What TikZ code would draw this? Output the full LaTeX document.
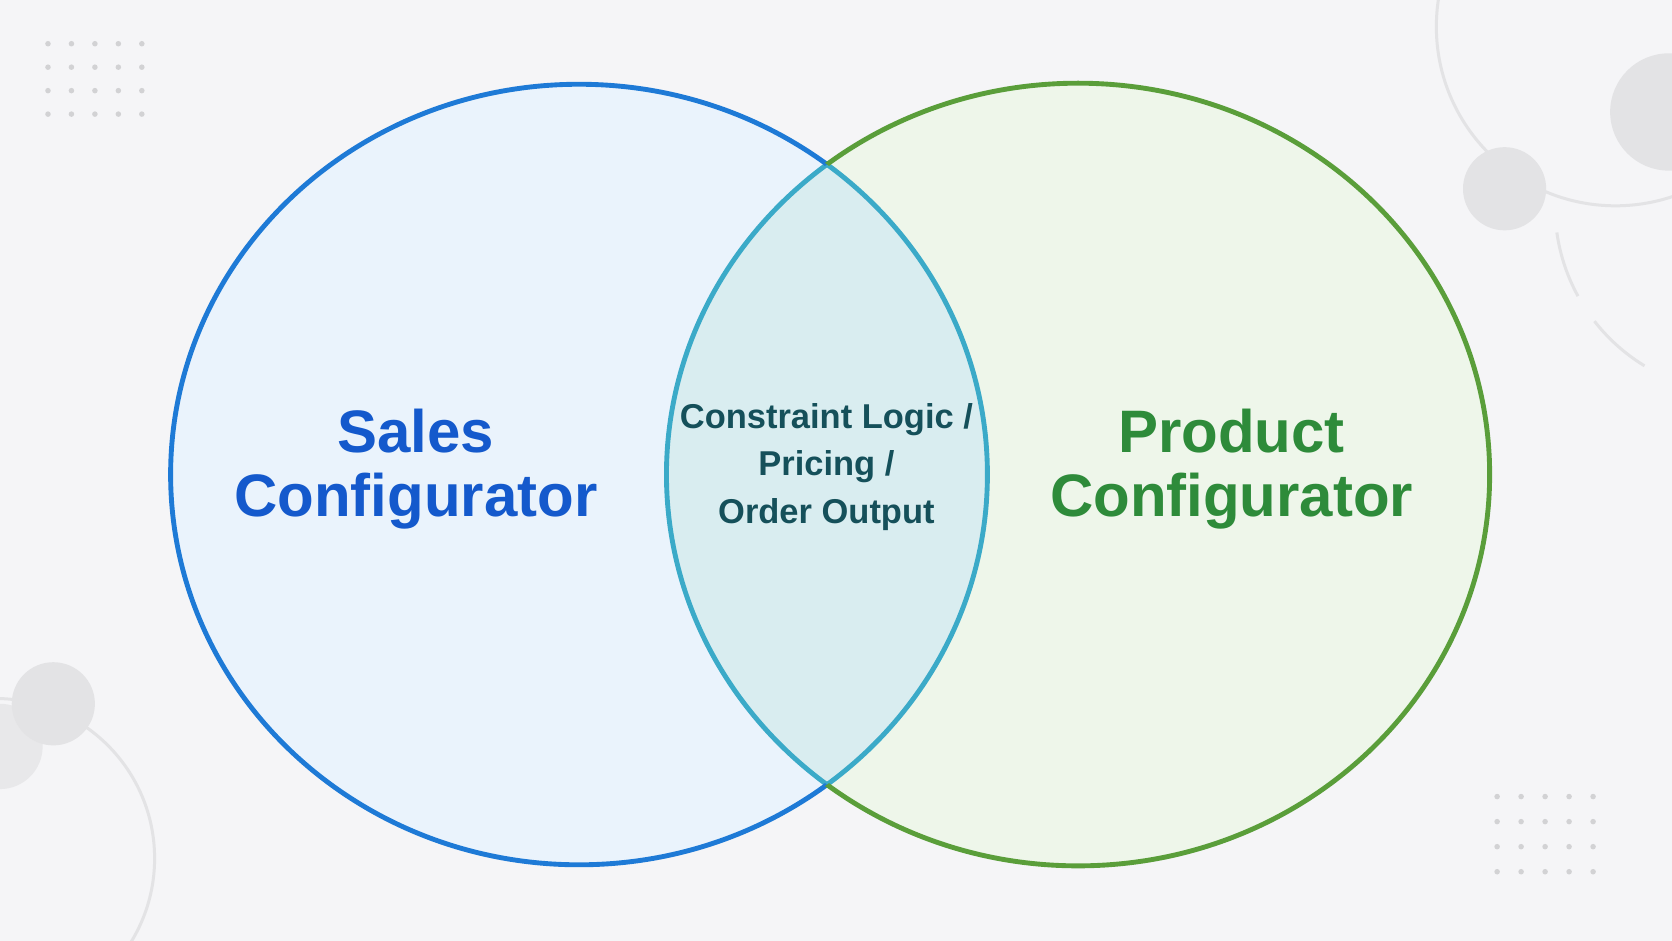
\documentclass[tikz,border=0pt]{standalone}
\usepackage{fontspec}
\setmainfont{Liberation Sans}
\usetikzlibrary{positioning}
\definecolor{bgcol}{HTML}{F5F5F7}
\definecolor{salesfill}{HTML}{EAF3FC}
\definecolor{salesline}{HTML}{1E7AD6}
\definecolor{salestext}{HTML}{1459CC}
\definecolor{prodfill}{HTML}{EEF6EA}
\definecolor{prodline}{HTML}{5A9E3A}
\definecolor{prodtext}{HTML}{2E8B3A}
\definecolor{lensfill}{HTML}{D9EDF0}
\definecolor{lensline}{HTML}{3BAAC8}
\definecolor{lenstext}{HTML}{15505A}
\definecolor{decogray}{HTML}{E3E3E5}
\definecolor{dotgray}{HTML}{D2D2D4}
\begin{document}
\begin{tikzpicture}[x=0.1mm, y=-0.1mm]
    \tikzset{title/.style = {font=\bfseries\fontsize{16}{17}\selectfont, align=center},
	lenslabel/.style = {font=\bfseries\fontsize{9.2}{12.8}\selectfont, align=center, text=lenstext},
	deco/.style = {draw=decogray, line width=0.8pt},
	ring/.style = {line width=1.3pt}}
	\def\salescirc{(543,445) ellipse (383 and 366)}
	\def\prodcirc{(1011,445) ellipse (386 and 367)}

		% background
		\fill[bgcol] (0,0) rectangle (1568,882);
		\useasboundingbox (0,0) rectangle (1568,882);

		% decorations
		\begin{scope}
			\clip (0,0) rectangle (1568,882);
			\draw[deco] (1515,25) circle (168);
			\fill[decogray] (1565,105) circle (55);
			\fill[decogray] (1411,177) circle (39);
			\draw[deco, dash pattern=on 18pt off 8pt] (1460,218) arc[start angle=172, end angle=118, radius=175];
			\draw[deco] (-5,805) circle (150);
			\fill[decogray!70!bgcol] (0,700) circle (40);
			\fill[decogray] (50,660) circle (39);
		\end{scope}
		\foreach \i in {0,...,4}
			\foreach \j in {0,...,3}
				\fill[dotgray] (45+22*\i,41+22*\j) circle (2.6);
		\foreach \i in {0,...,4}
			\foreach \j in {0,...,3}
				\fill[dotgray] (1404+22.5*\i,747+23.5*\j) circle (2.6);

		% circles
		\fill[salesfill] \salescirc;
		\fill[prodfill] \prodcirc;
		\begin{scope}
			\clip \salescirc;
			\fill[lensfill] \prodcirc;
			\draw[lensline, ring] \prodcirc;
		\end{scope}
		\begin{scope}
			\clip \prodcirc;
			\draw[lensline, ring] \salescirc;
		\end{scope}
		\begin{scope}[even odd rule]
			\clip (-10,-10) rectangle (1600,900) \prodcirc;
			\draw[salesline, ring] \salescirc;
		\end{scope}
		\begin{scope}[even odd rule]
			\clip (-10,-10) rectangle (1600,900) \salescirc;
			\draw[prodline, ring] \prodcirc;
		\end{scope}

		% labels
		\node[title, text=salestext] (sales) at (390,440) {Sales\\Configurator};
		\node[title, text=prodtext] (product) at (1155,440) {Product\\Configurator};
		\node[lenslabel] (overlap) at (775,438) {Constraint Logic /\\Pricing /\\Order Output};

\end{tikzpicture}
\end{document}
